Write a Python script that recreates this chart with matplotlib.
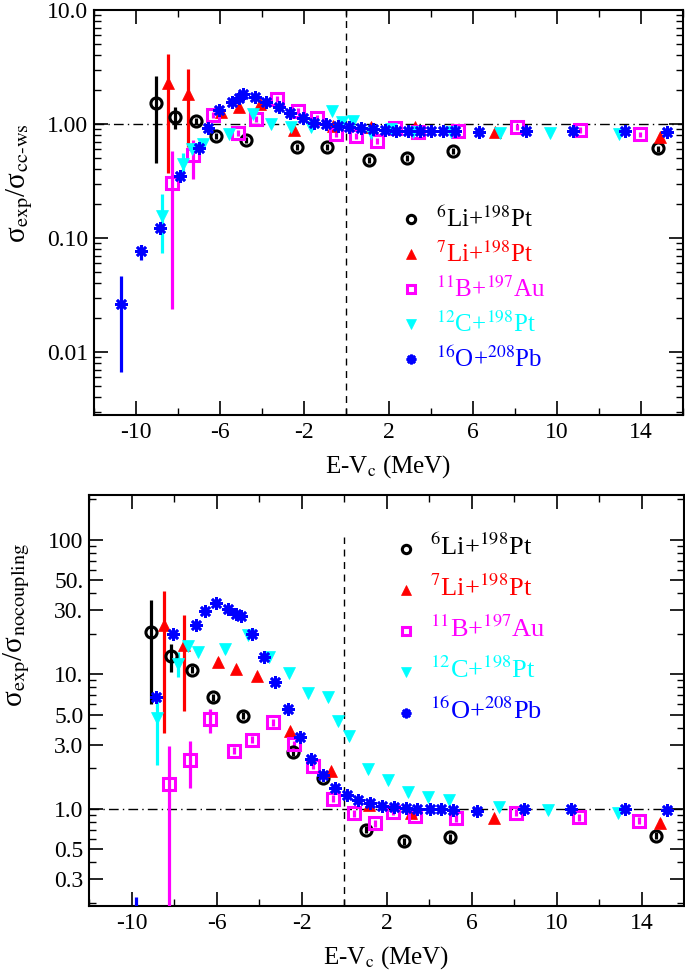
import numpy as np
import matplotlib
matplotlib.use("Agg")
import matplotlib.pyplot as plt
from matplotlib.ticker import FixedLocator, FixedFormatter, LogLocator, NullFormatter, MultipleLocator

plt.rcParams['font.family'] = ['Liberation Serif', 'DejaVu Serif']
plt.rcParams['mathtext.fontset'] = 'stix'
plt.rcParams['axes.unicode_minus'] = False

nan = np.nan

# ---- top panel: sigma_exp / sigma_cc-ws ----
li6_x_top = [-9.06, -8.16, -7.16, -6.18, -4.78, -2.37, -0.94, 1.06, 2.87, 5.06, 14.83]
li6_y_top = [1.54, 1.16, 1.06, 0.785, 0.724, 0.63, 0.63, 0.48, 0.50, 0.58, 0.61]
li6_lo_top = [0.455, 0.90] + [nan] * 9
li6_hi_top = [2.64, 1.42] + [nan] * 9

li7_x_top = [-8.48, -7.52, -5.94, -5.10, -4.11, -2.48, -0.62, 1.17, 3.24, 7.05, 14.9]
li7_y_top = [2.27, 1.82, 1.28, 1.42, 1.50, 0.886, 0.96, 0.95, 0.95, 0.85, 0.77]
li7_lo_top = [0.37, 0.63] + [nan] * 9
li7_hi_top = [4.1, 3.02] + [nan] * 9

b11_x_top = [-8.27, -7.27, -6.32, -5.17, -4.30, -3.32, -2.32, -1.41, -0.49, 0.46, 1.44,
             2.32, 3.40, 5.30, 8.11, 11.1, 13.95]
b11_y_top = [0.306, 0.53, 1.2, 0.83, 1.1, 1.65, 1.31, 1.14, 0.81, 0.785, 0.71,
             0.93, 0.85, 0.86, 0.95, 0.886, 0.81]
b11_lo_top = [0.024, 0.33] + [nan] * 15
b11_hi_top = [0.58, 0.73] + [nan] * 15

c12_x_top = [-8.78, -7.79, -7.35, -6.84, -5.60, -4.46, -3.59, -2.63, -1.68, -0.70, -0.22,
             0.30, 1.17, 2.13, 3.16, 4.98, 7.32, 9.67, 12.97]
c12_y_top = [0.156, 0.45, 0.60, 0.667, 0.817, 1.22, 1.0, 0.95, 0.935, 1.3, 1.05,
             1.07, 0.83, 0.90, 0.856, 0.856, 0.83, 0.83, 0.817]
c12_lo_top = [0.074, 0.37] + [nan] * 17
c12_hi_top = [0.243, 0.557] + [nan] * 17

o16_x_top = [-10.7, -9.78, -8.86, -7.92, -7.0, -6.57, -6.05, -5.44, -5.13, -4.9, -4.35,
             -3.8, -3.22, -2.67, -2.08, -1.52, -0.97, -0.41, 0.14, 0.7, 1.25, 1.81,
             2.37, 2.92, 3.48, 4.03, 4.59, 5.14, 6.29, 8.52, 10.78, 13.24, 15.25]
o16_y_top = [0.0264, 0.077, 0.123, 0.35, 0.612, 0.93, 1.33, 1.57, 1.7, 1.82, 1.74,
             1.57, 1.4, 1.24, 1.12, 1.03, 0.99, 0.96, 0.935, 0.917, 0.9, 0.886,
             0.87, 0.87, 0.87, 0.87, 0.87, 0.87, 0.856, 0.873, 0.873, 0.873, 0.856]
o16_lo_top = [0.0067, 0.064] + [nan] * 31
o16_hi_top = [0.046, 0.087] + [nan] * 31

# ---- bottom panel: sigma_exp / sigma_nocoupling ----
li6_x_bot = [-9.08, -8.15, -7.16, -6.15, -4.75, -2.41, -0.98, 1.02, 2.82, 5.0, 14.7]
li6_y_bot = [20.7, 13.7, 10.8, 6.77, 4.94, 2.63, 1.71, 0.70, 0.577, 0.615, 0.632]
li6_lo_bot = [5.97, 10.4] + [nan] * 9
li6_hi_bot = [35.8, 16.7] + [nan] * 9

li7_x_bot = [-8.47, -7.51, -5.92, -5.10, -4.09, -2.52, -0.62, 1.19, 3.14, 7.07, 14.88]
li7_y_bot = [23.2, 16.5, 12.4, 10.9, 9.7, 3.77, 1.9, 1.07, 0.94, 0.852, 0.79]
li7_lo_bot = [3.67, 5.3] + [nan] * 9
li7_hi_bot = [41.9, 27.6] + [nan] * 9

b11_x_bot = [-8.23, -7.25, -6.31, -5.17, -4.32, -3.34, -2.36, -1.47, -0.51, 0.48, 1.47,
             2.31, 3.34, 5.27, 8.09, 11.05, 13.86]
b11_y_bot = [1.53, 2.32, 4.62, 2.71, 3.27, 4.4, 3.04, 2.09, 1.19, 0.93, 0.78,
             0.955, 0.89, 0.852, 0.94, 0.87, 0.82]
b11_lo_bot = [0.01, 1.44, 3.67] + [nan] * 14
b11_hi_bot = [2.92, 3.18, 5.55] + [nan] * 14

c12_x_bot = [-8.78, -7.83, -7.33, -6.86, -5.61, -4.51, -3.55, -2.61, -1.70, -0.74, -0.30,
             0.24, 1.14, 2.07, 3.01, 3.97, 4.93, 7.28, 9.61, 12.9]
c12_y_bot = [4.75, 11.9, 16.3, 14.7, 15.4, 19.5, 13.5, 10.3, 7.3, 6.77, 4.48,
             3.46, 1.98, 1.63, 1.33, 1.22, 1.17, 1.03, 0.98, 0.94]
c12_lo_bot = [2.13, 9.5] + [nan] * 18
c12_hi_bot = [6.5, 14.6] + [nan] * 18

o16_x_bot = [-9.78, -8.84, -8.04, -6.98, -6.55, -6.03, -5.45, -5.09, -4.87, -4.32, -3.78,
             -3.23, -2.64, -2.09, -1.55, -1.0, -0.43, 0.13, 0.68, 1.22, 1.77, 2.36,
             2.9, 3.45, 4.04, 4.58, 5.14, 6.26, 8.47, 10.7, 13.2, 15.2]
o16_y_bot = [0.12, 6.77, 19.9, 23.3, 29.4, 33.9, 30.6, 28.0, 27.2, 19.9, 13.5,
             8.77, 5.48, 3.43, 2.35, 1.79, 1.44, 1.26, 1.17, 1.10, 1.06, 1.04,
             1.01, 1.0, 1.0, 1.0, 0.98, 0.97, 1.0, 1.0, 1.0, 0.98]
o16_lo_bot = [0.07] + [nan] * 31
o16_hi_bot = [0.22] + [nan] * 31

SMALL_ERR = 0.06  # relative error drawn where the bar is hidden by the marker

labels = [r'$^{6}$Li+$^{198}$Pt', r'$^{7}$Li+$^{198}$Pt', r'$^{11}$B+$^{197}$Au',
          r'$^{12}$C+$^{198}$Pt', r'$^{16}$O+$^{208}$Pb']
colors = ['black', '#ff0000', '#ff00ff', '#00ffff', '#0000ff']
markers = ['o', '^', 's', 'v', (8, 2, 0)]
open_mk = [True, False, True, False, False]

top_data = [(li6_x_top, li6_y_top, li6_lo_top, li6_hi_top),
            (li7_x_top, li7_y_top, li7_lo_top, li7_hi_top),
            (b11_x_top, b11_y_top, b11_lo_top, b11_hi_top),
            (c12_x_top, c12_y_top, c12_lo_top, c12_hi_top),
            (o16_x_top, o16_y_top, o16_lo_top, o16_hi_top)]
bot_data = [(li6_x_bot, li6_y_bot, li6_lo_bot, li6_hi_bot),
            (li7_x_bot, li7_y_bot, li7_lo_bot, li7_hi_bot),
            (b11_x_bot, b11_y_bot, b11_lo_bot, b11_hi_bot),
            (c12_x_bot, c12_y_bot, c12_lo_bot, c12_hi_bot),
            (o16_x_bot, o16_y_bot, o16_lo_bot, o16_hi_bot)]

fig = plt.figure(figsize=(6.85, 9.76), dpi=100)
ax1 = fig.add_axes([94 / 685, 1 - 415 / 976, 589 / 685, 405 / 976])
ax2 = fig.add_axes([89 / 685, 1 - 906 / 976, 595 / 685, 411 / 976])


def marker_style(c, m, op, ms):
    if m == (8, 2, 0):
        return dict(ms=ms + 1, mew=1.9, mec=c, mfc=c)
    if op:
        return dict(ms=ms, mew=2.2, mec=c, mfc='none')
    return dict(ms=ms + 0.5, mew=0.5, mec=c, mfc=c)


def draw(ax, data):
    for (x, y, lo, hi), c, m, op in zip(data, colors, markers, open_mk):
        y = np.array(y)
        lo = np.array(lo, dtype=float)
        hi = np.array(hi, dtype=float)
        lo = np.where(np.isnan(lo), y * (1 - SMALL_ERR), lo)
        hi = np.where(np.isnan(hi), y * (1 + SMALL_ERR), hi)
        ax.errorbar(x, y, yerr=[y - lo, hi - y], fmt='none', ecolor=c,
                    elinewidth=2.3, capsize=0, zorder=3)
        ax.plot(x, y, ls='none', marker=m, color=c, zorder=4, **marker_style(c, m, op, 8))


draw(ax1, top_data)
draw(ax2, bot_data)

for ax in (ax1, ax2):
    ax.set_yscale('log')
    ax.set_xlim(-12, 16)
    ax.xaxis.set_major_locator(FixedLocator([-10, -6, -2, 2, 6, 10, 14]))
    ax.xaxis.set_minor_locator(MultipleLocator(2))
    ax.yaxis.set_minor_locator(LogLocator(base=10, subs=np.arange(2, 10), numticks=20))
    ax.yaxis.set_minor_formatter(NullFormatter())
    ax.tick_params(which='both', direction='in', top=True, right=True, labelsize=17)
    ax.tick_params(which='major', length=10, width=1.2)
    ax.tick_params(which='minor', length=5, width=1.0)
    ax.tick_params(axis='x', pad=5)
    ax.tick_params(axis='y', pad=4)
    for s in ax.spines.values():
        s.set_linewidth(1.5)
    ax.axhline(1.0, color='black', lw=1.0, ls=(0, (7, 3, 1, 3)), zorder=1)
    ax.set_xlabel(r'E-V$_{\rm c}$ (MeV)', fontsize=18)

ax1.set_ylim(0.0028, 10)
ax1.yaxis.set_major_locator(FixedLocator([0.01, 0.1, 1, 10]))
ax1.yaxis.set_major_formatter(FixedFormatter(['0.01', '0.10', '1.00', '10.0']))
ax1.axvline(0, color='black', lw=1.0, ls=(0, (5, 4)), zorder=1)
ax1.set_ylabel('σ$_{\\rm exp}$/σ$_{\\rm cc\\text{-}ws}$', fontsize=21)
ax1.yaxis.set_label_coords(-0.1, 0.573)
ax1.xaxis.set_label_coords(0.5, -0.095)

ax2.set_ylim(0.19, 215)
ax2.yaxis.set_major_locator(FixedLocator([0.3, 0.5, 1, 3, 5, 10, 30, 50, 100]))
ax2.yaxis.set_major_formatter(FixedFormatter(['0.3', '0.5', '1.0', '3.0', '5.0', '10.',
                                              '30.', '50.', '100']))
ax2.vlines(0, 0.19, 105, color='black', lw=1.0, ls=(0, (5, 4)), zorder=1)
ax2.set_ylabel('σ$_{\\rm exp}$/σ$_{\\rm nocoupling}$', fontsize=21)
ax2.yaxis.set_label_coords(-0.096, 0.684)
ax2.xaxis.set_label_coords(0.5, -0.093)


# legends drawn as marker + coloured text in axes coordinates
def legend(ax, x_mk, x_tx, y0, dy, base_off, fs, ms):
    for i, (lab, c, m, op) in enumerate(zip(labels, colors, markers, open_mk)):
        yy = y0 - i * dy
        ax.plot([x_mk], [yy], marker=m, color=c, ls='none', transform=ax.transAxes,
                clip_on=False, **marker_style(c, m, op, ms))
        ax.text(x_tx, yy - base_off, lab, color=c, fontsize=fs, transform=ax.transAxes,
                ha='left', va='baseline')


legend(ax1, 0.538, 0.581, 0.484, 0.0864, 0.020, 18, 6)
legend(ax2, 0.533, 0.573, 0.869, 0.0998, 0.015, 19, 6)

fig.savefig('out.png', dpi=100)
